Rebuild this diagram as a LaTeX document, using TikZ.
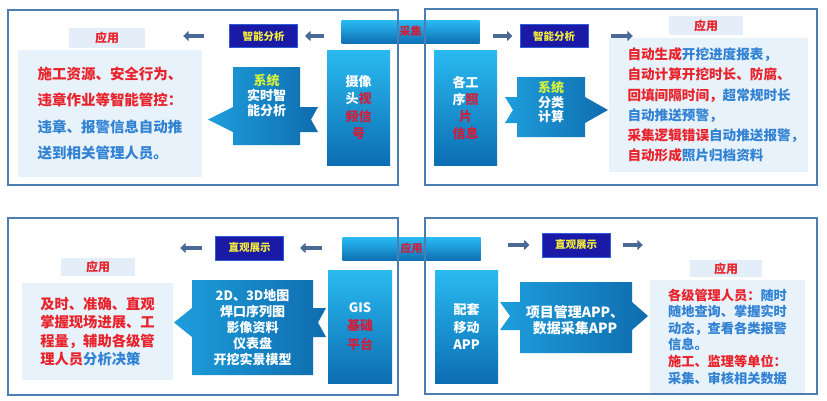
\documentclass[tikz,border=0pt]{standalone}
\usepackage{fontspec}
\setmainfont{Noto Sans CJK SC}
\usetikzlibrary{arrows.meta,positioning}
\definecolor{frameBlue}{HTML}{4D7DB5}
\definecolor{redText}{HTML}{E8232B}
\definecolor{blueText}{HTML}{3282D4}
\definecolor{redBox}{HTML}{D01E3A}
\definecolor{yel}{HTML}{F4EC3C}
\definecolor{yelGreen}{HTML}{D6F23A}
\definecolor{darkFill}{HTML}{1A1AA6}
\definecolor{darkEdge}{HTML}{2F5FD8}
\definecolor{tagFill}{HTML}{E3EEF8}
\definecolor{panelFill}{HTML}{E8F2FB}
\definecolor{srcTop}{HTML}{2ABAF0}
\definecolor{srcBot}{HTML}{0C6EB2}
\definecolor{ribL}{HTML}{1E9EDC}
\definecolor{ribR}{HTML}{0F6CAE}
\definecolor{barTop}{HTML}{28BCF2}
\definecolor{barBot}{HTML}{1070B6}
\definecolor{flowCol}{HTML}{4A6A96}

\begin{document}
\begin{tikzpicture}[x=1pt,y=-1pt,every text node part/.style={align=center}]
\tikzset{myFrame/.style={draw=frameBlue,line width=1.3pt}}
\tikzset{myBar/.style={top color=barTop,bottom color=barBot,minimum width=138,minimum height=23,inner sep=0,font=\bfseries\fontsize{11}{11}\selectfont,text=redBox}}
\tikzset{myDark/.style={fill=darkFill,draw=darkEdge,line width=1pt,text=yel,minimum width=68,minimum height=23,inner sep=0,font=\bfseries\fontsize{10.5}{10.5}\selectfont}}
\tikzset{myTag/.style={fill=tagFill,text=redText,minimum width=74,minimum height=19,inner sep=0,font=\bfseries\fontsize{12}{12}\selectfont}}
\tikzset{myPanel/.style={fill=panelFill,inner sep=0,every text node part/.style={align=left},text=blueText}}
\tikzset{mySource/.style={top color=srcTop,bottom color=srcBot,text=white,inner sep=0,minimum width=63,font=\bfseries\fontsize{13}{17.5}\selectfont}}
\tikzset{myRibbon/.style={left color=ribL,right color=ribR}}
\tikzset{myRibText/.style={text=white,inner sep=0,font=\bfseries\fontsize{13}{15}\selectfont}}
\tikzset{myFlow/.style={draw=flowCol,line width=4pt,-{Triangle[length=5.5pt,width=10pt]}}}

\fill[white] (0,0) rectangle (827,400);
\useasboundingbox (0,0) rectangle (827,400);

% centre banners
\node[myBar] (collect) at (410.5,31.5) {采集};
\node[myBar] (apply) at (411.5,248.5) {应用};

% frames
\draw[myFrame] (8,10) rectangle (398,185);
\draw[myFrame] (425,9) rectangle (817,185);
\draw[myFrame] (8,218) rectangle (398,395);
\draw[myFrame] (425,218) rectangle (817,394);

% top left: camera
\node[mySource,minimum height=115] (camera) at (358.5,107.5) {摄像\\头\textcolor{redBox}{视}\\\textcolor{redBox}{频信}\\\textcolor{redBox}{号}};
\path[myRibbon] (233,67) -- (300,67) -- (300,107) -- (318,107) -- (311,119.5) -- (318,132) -- (300,132) -- (300,145) -- (233,145) -- (233,132) -- (208,119.5) -- (233,107) -- cycle;
\node[myRibText] (sysTL) at (266.5,95) {\textcolor{yelGreen}{系统}\\实时智\\能分析};
\node[myDark] (analysisL) at (263.5,36) {智能分析};
\node[myTag,minimum width=76,minimum height=20] (tagTL) at (107,38) {应用};
\node[myPanel,minimum width=184,minimum height=127,font=\bfseries\fontsize{14.5}{26.5}\selectfont] (panelTL) at (110,113.5) {\textcolor{redText}{施工资源、安全行为、}\\
\textcolor{redText}{违章作业等智能管控：}\\
违章、报警信息自动推\\
送到相关管理人员。};
\draw[myFlow,shorten <=17pt,shorten >=7pt] (collect.west |- analysisL) -- (analysisL.east);
\draw[myFlow,shorten <=25pt,shorten >=38pt] (analysisL.west) -- (analysisL.west -| tagTL.east);

% top right: photos
\node[mySource,minimum height=115,font=\bfseries\fontsize{13}{17}\selectfont] (photo) at (465.5,107.5) {各工\\序\textcolor{redBox}{照}\\\textcolor{redBox}{片}\\\textcolor{redBox}{信息}};
\path[myRibbon] (517,77) -- (585,77) -- (585,97) -- (608,110) -- (585,123) -- (585,137) -- (517,137) -- (517,123) -- (505,123) -- (513,110) -- (505,97) -- (517,97) -- cycle;
\node[myRibText,font=\bfseries\fontsize{13}{14.5}\selectfont] (sysTR) at (551,102) {\textcolor{yelGreen}{系统}\\分类\\计算};
\node[myDark] (analysisR) at (554,36) {智能分析};
\node[myTag] (tagTR) at (706,25.5) {应用};
\node[myPanel,minimum height=134,text width=162,inner xsep=18.5,font=\bfseries\fontsize{13.6}{20.2}\selectfont] (panelTR) at (708.5,105) {\textcolor{redText}{自动生成}开挖进度报表，\\
\textcolor{redText}{自动计算开挖时长、防腐、}\\
\textcolor{redText}{回填间隔时间，}超常规时长\\
自动推送预警，\\
\textcolor{redText}{采集逻辑错误}自动推送报警，\\
\textcolor{redText}{自动形成}照片归档资料};
\draw[myFlow,shorten <=13pt,shorten >=7pt] (collect.east |- analysisR) -- (analysisR.west);
\draw[myFlow,shorten <=22pt,shorten >=36pt] (analysisR.east) -- (analysisR.east -| tagTR.west);

% bottom left: GIS
\node[mySource,minimum width=64,minimum height=113,font=\bfseries\fontsize{13}{18.5}\selectfont] (gis) at (360,326.5) {GIS\\\textcolor{redBox}{基础}\\\textcolor{redBox}{平台}};
\path[myRibbon] (192,280) -- (313,280) -- (313,308) -- (326,308) -- (318,322.5) -- (326,337) -- (313,337) -- (313,375) -- (192,375) -- (192,337) -- (174,322.5) -- (192,308) -- cycle;
\node[myRibText,font=\bfseries\fontsize{13}{16.2}\selectfont] (mapBL) at (252.5,327.5) {2D、3D地图\\焊口序列图\\影像资料\\仪表盘\\开挖实景模型};
\node[myDark,minimum height=24] (displayL) at (249.5,248) {直观展示};
\node[myTag,minimum height=18] (tagBL) at (98,267) {应用};
\node[myPanel,minimum width=151,minimum height=97,font=\bfseries\fontsize{14.3}{18.5}\selectfont] (panelBL) at (97.5,331.5) {\textcolor{redText}{及时、准确、直观}\\
\textcolor{redText}{掌握现场进展、工}\\
\textcolor{redText}{程量，辅助各级管}\\
\textcolor{redText}{理人员}分析决策};
\draw[myFlow,shorten <=20pt,shorten >=16pt] (apply.west |- displayL) -- (displayL.east);
\draw[myFlow,shorten <=13pt,shorten >=45pt] (displayL.west) -- (displayL.west -| tagBL.east);

% bottom right: mobile app
\node[mySource,minimum height=113] (mobile) at (466.5,326.5) {配套\\移动\\APP};
\path[myRibbon] (520,282) -- (632,282) -- (632,302) -- (648,316) -- (632,330) -- (632,353) -- (520,353) -- (520,330) -- (500,330) -- (510,316) -- (500,302) -- (520,302) -- cycle;
\node[myRibText,font=\bfseries\fontsize{14}{16}\selectfont] (appBR) at (575,320) {项目管理APP、\\数据采集APP};
\node[myDark,minimum height=24] (displayR) at (576,245) {直观展示};
\node[myTag,minimum width=72,minimum height=17] (tagBR) at (726,268.5) {应用};
\node[myPanel,minimum width=155,minimum height=113,font=\bfseries\fontsize{13.2}{16.6}\selectfont] (panelBR) at (727.5,336.5) {\textcolor{redText}{各级管理人员：}随时\\
随地查询、掌握实时\\
动态，查看各类报警\\
信息。\\
\textcolor{redText}{施工、监理等单位：}\\
采集、审核相关数据};
\draw[myFlow,shorten <=27pt,shorten >=12pt] (apply.east |- displayR) -- (displayR.west);
\draw[myFlow,shorten <=12pt,shorten >=47pt] (displayR.east) -- (displayR.east -| tagBR.west);
\end{tikzpicture}
\end{document}
